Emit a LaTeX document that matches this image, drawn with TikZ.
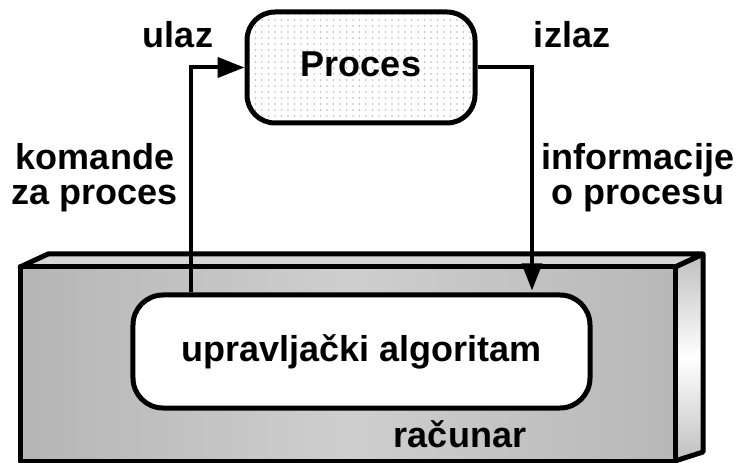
\documentclass[tikz,border=0pt]{standalone}
\usepackage{fontspec}
\setmainfont{Liberation Sans}
\usetikzlibrary{arrows.meta,calc}

\begin{document}
\begin{tikzpicture}[x=1bp,y=-1bp,
  every node/.style={font=\fontsize{36bp}{35bp}\selectfont\bfseries, inner sep=0pt},
  outline/.style={draw=black, line width=5bp, line join=round},
  roundbox/.style={outline, rounded corners=28bp, minimum width=228bp, minimum height=111bp},
  dotted fill/.style={path picture={
      \foreach \i in {0,...,36}{
        \foreach \j in {0,...,19}{
          \fill[gray!55] ($(path picture bounding box.north west)+(\i*6.5bp+2bp,-\j*6bp-2bp)$) circle (0.8bp);
        }}}},
  flow/.style={line width=4bp, -{Triangle[length=27bp,width=20bp]}},
  label/.style={anchor=base}]
  \useasboundingbox (0,0) rectangle (740,463);

  % computer case: side, top and front faces
  \path[outline, top color=gray!50, bottom color=gray!50, middle color=white]
    (675,267) -- (703,254) -- (703,452) -- (675,461) -- cycle;
  \path[outline, fill=gray!32]
    (20,267) -- (48,254) -- (703,254) -- (675,267) -- cycle;
  \path[outline, left color=gray!58, right color=gray!56, middle color=gray!38]
    (20,267) rectangle (675,461);

  % process and control algorithm
  \node[roundbox, dotted fill, fill=white, text depth=7bp] (proc) at (361,67.5) {Proces};
  \node[roundbox, fill=white, rounded corners=30bp, minimum width=457bp, minimum height=113bp]
    (alg) at (361.5,351.5) {upravlja\v{c}ki algoritam};

  % signal paths
  \coordinate (cmd) at (191,0);
  \coordinate (info) at (532,0);
  \draw[flow] (cmd |- alg.north) |- (proc.west);
  \draw[flow, shorten >=2bp] (proc.east) -| (info |- alg.north);

  % labels
  \node[label] (in) at (178,48) {ulaz};
  \node[label] (out) at (572,48) {izlaz};
  \node[align=center] (cmdlbl) at (95,178) {komande\\za proces};
  \node[align=center] (infolbl) at (638,178) {informacije\\o procesu};
  \node[label] (pc) at (460,447) {ra\v{c}unar};
\end{tikzpicture}
\end{document}
